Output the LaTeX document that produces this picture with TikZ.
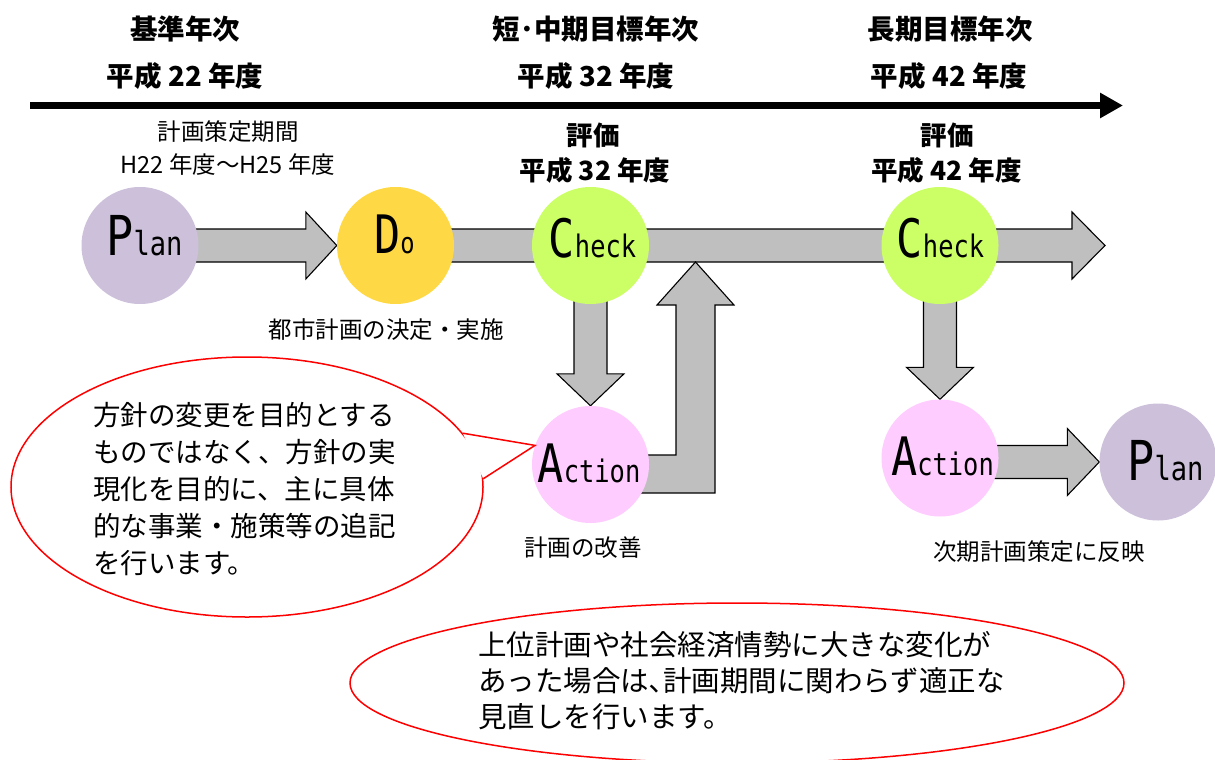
\documentclass[tikz,border=0pt]{standalone}
\usepackage{fontspec}
\usepackage{graphicx}
\setmainfont{Noto Sans CJK JP}
\newfontfamily\latinmono{DejaVu Sans Mono}
\usetikzlibrary{arrows.meta,calc,shapes.geometric,backgrounds}
\definecolor{planc}{HTML}{CCC0DA}
\definecolor{doc}{HTML}{FFD945}
\definecolor{checkc}{HTML}{CCFF66}
\definecolor{actc}{HTML}{FFCCFF}
\definecolor{arrg}{HTML}{BFBFBF}
\newcommand{\pdcaword}[4]{\scalebox{0.82}[1]{\latinmono\fontsize{#3}{#3}\selectfont #1\fontsize{#4}{#4}\selectfont #2}}
\begin{document}
\begin{tikzpicture}[x=1pt,y=-1pt,
  blk/.style={draw=black, line width=1.1pt, fill=arrg, line join=miter},
  disk/.style={circle, minimum size=117pt, inner sep=0pt, draw=none},
  hdr/.style={font=\bfseries\fontsize{27.5}{30}\selectfont, inner sep=0pt},
  sub/.style={font=\bfseries\fontsize{26.5}{30}\selectfont, inner sep=0pt},
  lbl/.style={font=\fontsize{23.5}{26}\selectfont, inner sep=0pt},
  pdca/.style={anchor=base, inner sep=0pt},
  bubble/.style={draw=red, line width=1.5pt, fill=white},
  btext/.style={align=left, inner sep=0pt, anchor=north west}
]
\useasboundingbox (0,0) rectangle (1215,760);

% timeline
\coordinate (tl0) at (30,105.5);
\coordinate (tl1) at (1123,105.5);
\draw[line width=7.5pt, -{Triangle[length=23pt,width=24pt]}] (tl0) -- (tl1);

% headers
\node[hdr] (h1a) at (185,29) {基準年次};
\node[hdr] (h1b) at (185,76.5) {平成 22 年度};
\node[hdr] (h2a) at (596,29) {短･中期目標年次};
\node[hdr] (h2b) at (596,76.5) {平成 32 年度};
\node[hdr] (h3a) at (950,29) {長期目標年次};
\node[hdr] (h3b) at (949,76.5) {平成 42 年度};

\node[lbl] (s1a) at (228,132) {計画策定期間};
\node[lbl] (s1b) at (228,165) {H22 年度～H25 年度};
\node[sub] (e1a) at (593,135) {評価};
\node[sub] (e1b) at (595,170) {平成 32 年度};
\node[sub] (e2a) at (947,135) {評価};
\node[sub] (e2b) at (946.5,170) {平成 42 年度};

% circles
\node[disk, fill=planc] (p1) at (140,245.5) {};
\node[disk, fill=doc] (do) at (395.5,245.5) {};
\node[disk, fill=checkc] (c1) at (590.5,245.5) {};
\node[disk, fill=checkc] (c2) at (940,245.5) {};
\node[disk, fill=actc] (a1) at (590.5,464.5) {};
\node[disk, fill=actc] (a2) at (940,458) {};
\node[disk, fill=planc] (p2) at (1158,462) {};

\node[pdca] (tp1) at (144.5,255) {\pdcaword{P}{lan}{55}{33}};
\node[pdca] (tdo) at (394.5,253) {\pdcaword{D}{o}{53}{29}};
\node[pdca] (tc1) at (592.5,257) {\pdcaword{C}{heck}{53}{31}};
\node[pdca] (tc2) at (940.5,257) {\pdcaword{C}{heck}{53}{31}};
\node[pdca] (ta1) at (589,482) {\pdcaword{A}{ction}{53}{31}};
\node[pdca] (ta2) at (942.5,475) {\pdcaword{A}{ction}{53}{31}};
\node[pdca] (tp2) at (1165.5,480.5) {\pdcaword{P}{lan}{55}{33}};

\coordinate (endR) at (1105,245.5);
\coordinate (uptip) at (695.5,262);
\coordinate (bend) at (695.5,474);

\begin{scope}[on background layer]
% Plan -> Do
\draw[blk] ($(p1.center)+(0,-16.5)$) -- ($(do.west)+(-31,-16.5)$) -- ($(do.west)+(-31,-33.5)$) -- (do.west)
  -- ($(do.west)+(-31,33.5)$) -- ($(do.west)+(-31,16.5)$) -- ($(p1.center)+(0,16.5)$) -- cycle;
% Do -> Check -> Check -> beyond
\draw[blk] ($(do.center)+(0,-16.5)$) -- ($(endR)+(-33,-16.5)$) -- ($(endR)+(-33,-33.5)$) -- (endR)
  -- ($(endR)+(-33,33.5)$) -- ($(endR)+(-33,16.5)$) -- ($(do.center)+(0,16.5)$) -- cycle;
% Action -> back up to bar
\draw[blk] ($(a1.center |- bend)+(0,-19)$) -- ($(bend)+(-19.5,-19)$) -- ($(uptip)+(-19.5,43)$)
  -- ($(uptip)+(-38.5,43)$) -- (uptip) -- ($(uptip)+(38.5,43)$) -- ($(uptip)+(19.5,43)$)
  -- ($(bend)+(19.5,19)$) -- ($(a1.center |- bend)+(0,19)$) -- cycle;
% Check1 -> Action1
\draw[blk] ($(c1.center)+(-16.5,0)$) -- ($(a1.north)+(-16.5,-32)$) -- ($(a1.north)+(-33.5,-32)$) -- (a1.north)
  -- ($(a1.north)+(33.5,-32)$) -- ($(a1.north)+(16.5,-32)$) -- ($(c1.center)+(16.5,0)$) -- cycle;
% Check2 -> Action2
\draw[blk] ($(c2.center)+(-16.5,0)$) -- ($(a2.north)+(-16.5,-32)$) -- ($(a2.north)+(-33.5,-32)$) -- (a2.north)
  -- ($(a2.north)+(33.5,-32)$) -- ($(a2.north)+(16.5,-32)$) -- ($(c2.center)+(16.5,0)$) -- cycle;
% Action2 -> Plan2
\draw[blk] ($(a2.center |- p2.west)+(0,-16.5)$) -- ($(p2.west)+(-32,-16.5)$) -- ($(p2.west)+(-32,-33.5)$) -- (p2.west)
  -- ($(p2.west)+(-32,33.5)$) -- ($(p2.west)+(-32,16.5)$) -- ($(a2.center |- p2.west)+(0,16.5)$) -- cycle;
\end{scope}

\node[lbl] (l1) at (386,330) {都市計画の決定・実施};
\node[lbl] (l2) at (583,548) {計画の改善};
\node[lbl] (l3) at (1039,552) {次期計画策定に反映};

% callout 1
\node[ellipse, bubble, minimum width=472pt, minimum height=260pt, inner sep=0pt] (co1) at (247,487) {};
\fill[white] (co1.14) -- (a1.161) -- (co1.2) -- cycle;
\draw[red, line width=1.5pt, line join=miter] (co1.14) -- (a1.161) -- (co1.2);
\node[btext, font=\fontsize{27.5}{37}\selectfont] (t1) at (93,402) {方針の変更を目的とする\\ものではなく、方針の実\\現化を目的に、主に具体\\的な事業・施策等の追記\\を行います。};

% callout 2
\node[ellipse, bubble, minimum width=774pt, minimum height=160pt, inner sep=0pt] (co2) at (737,683) {};
\node[btext, font=\fontsize{28.5}{36}\selectfont] (t2) at (478,631) {上位計画や社会経済情勢に大きな変化が\\あった場合は､計画期間に関わらず適正な\\見直しを行います。};
\end{tikzpicture}
\end{document}
